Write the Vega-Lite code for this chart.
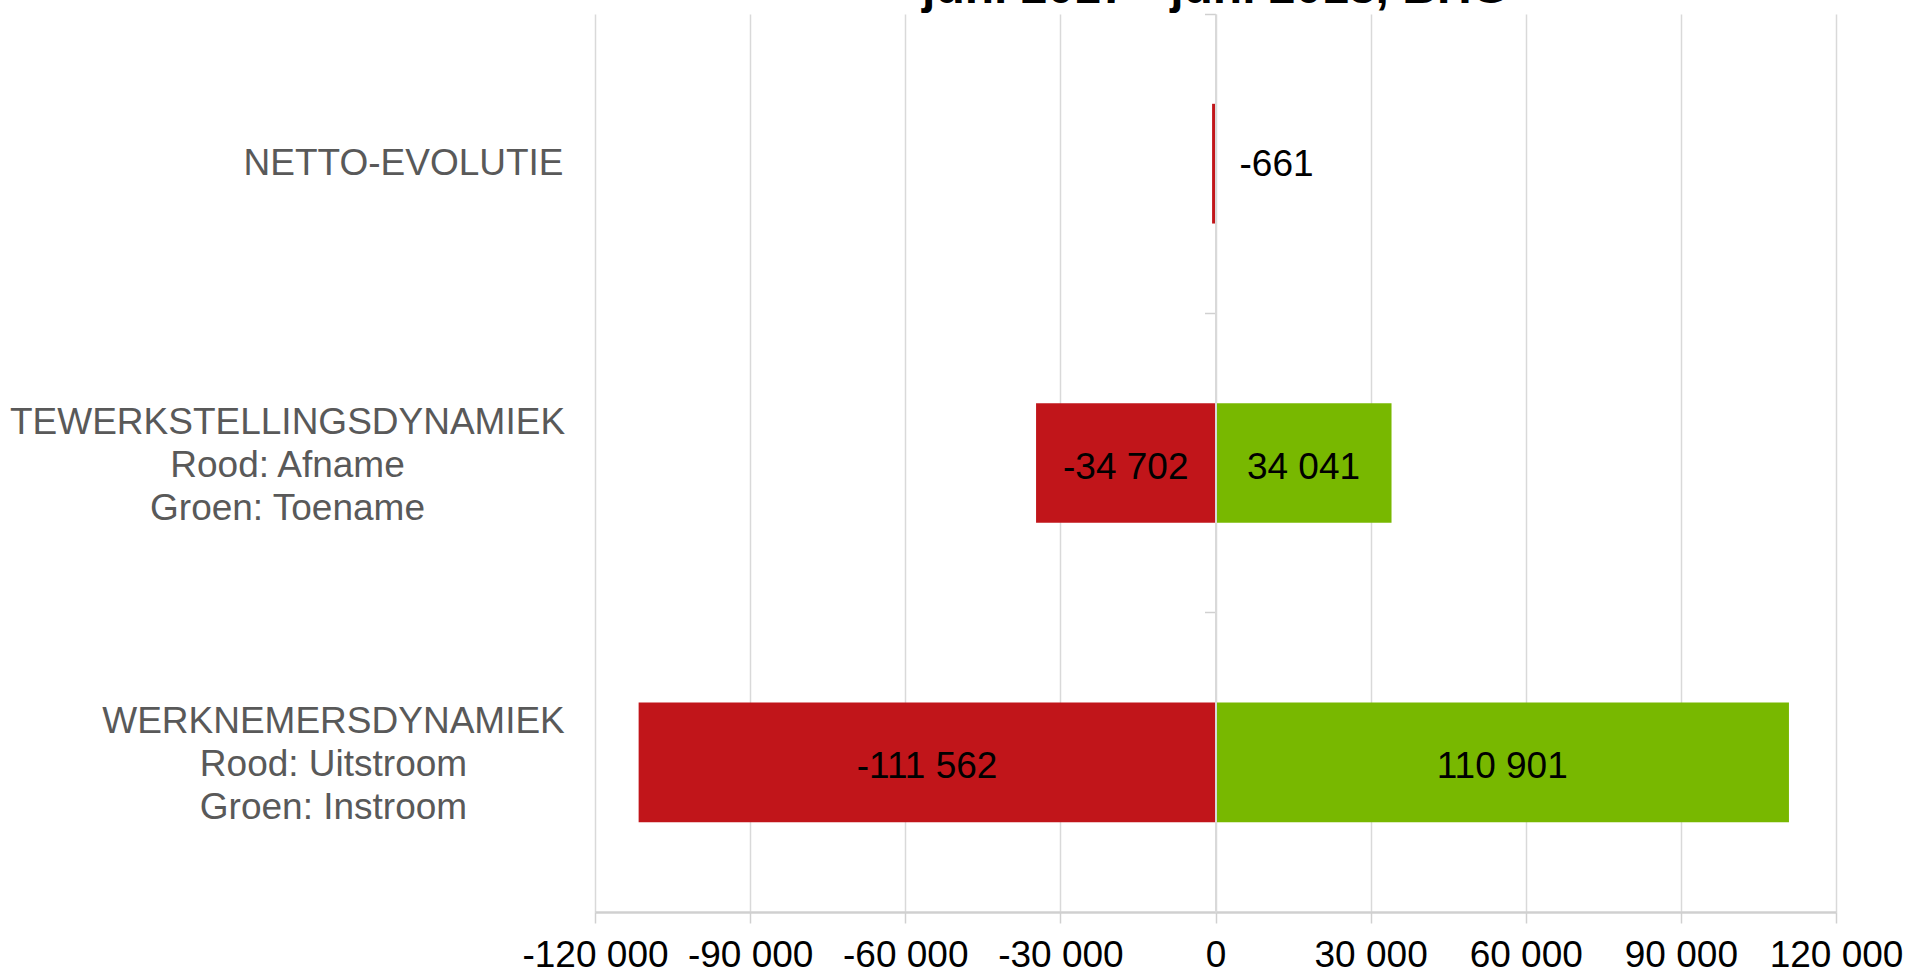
{
  "$schema": "https://vega.github.io/schema/vega-lite/v6.json",
  "width": 1241,
  "height": 898,
  "autosize": {"type": "none"},
  "padding": {"left": 595, "top": 14, "right": 73, "bottom": 62},
  "background": "white",
  "config": {"view": {"stroke": null}},
  "title": {"text": "juni 2017 - juni 2018, BHG", "font": "Liberation Sans", "fontSize": 48, "fontWeight": "bold", "color": "#000000", "anchor": "middle", "offset": 0},
  "data": {"values": [
    {"cat": "NETTO-EVOLUTIE", "kind": "neg", "value": -661},
    {"cat": "TEWERKSTELLINGSDYNAMIEK|Rood: Afname|Groen: Toename", "kind": "neg", "value": -34702},
    {"cat": "TEWERKSTELLINGSDYNAMIEK|Rood: Afname|Groen: Toename", "kind": "pos", "value": 34041},
    {"cat": "WERKNEMERSDYNAMIEK|Rood: Uitstroom|Groen: Instroom", "kind": "neg", "value": -111562},
    {"cat": "WERKNEMERSDYNAMIEK|Rood: Uitstroom|Groen: Instroom", "kind": "pos", "value": 110901}
  ]},
  "transform": [
    {"calculate": "replace(replace(format(datum.value, ','), ',', ' '), '\u2212', '-')", "as": "lbl"},
    {"calculate": "datum.value / 2", "as": "mid"}
  ],
  "layer": [
    {
      "mark": {"type": "bar"},
      "encoding": {
        "y": {
          "field": "cat", "type": "nominal",
          "sort": ["NETTO-EVOLUTIE", "TEWERKSTELLINGSDYNAMIEK|Rood: Afname|Groen: Toename", "WERKNEMERSDYNAMIEK|Rood: Uitstroom|Groen: Instroom"],
          "scale": {"paddingInner": 0.6, "paddingOuter": 0.3},
          "axis": {
            "orient": "left", "title": null, "domain": false, "ticks": false, "tickSize": 0, "grid": false,
            "labelExpr": "split(datum.label, '|')",
            "labelAlign": "center", "labelBaseline": "middle",
            "labelFont": "Liberation Sans", "labelFontSize": 37, "labelColor": "#595959",
            "labelLineHeight": 43, "labelLimit": 2000,
            "labelPadding": {"condition": [
              {"test": "datum.value === 'NETTO-EVOLUTIE'", "value": 192},
              {"test": "indexof(datum.value, 'TEWERK') === 0", "value": 308}
            ], "value": 262},
            "labelOffset": {"condition": {"test": "datum.value === 'NETTO-EVOLUTIE'", "value": 0}, "value": -40}
          }
        },
        "x": {
          "field": "value", "type": "quantitative",
          "scale": {"domain": [-120000, 120000], "nice": false, "zero": false},
          "axis": {
            "orient": "bottom", "title": null,
            "values": [-120000, -90000, -60000, -30000, 0, 30000, 60000, 90000, 120000],
            "labelExpr": "replace(replace(format(datum.value, ','), ',', ' '), '\u2212', '-')",
            "labelFont": "Liberation Sans", "labelFontSize": 37, "labelColor": "#000000",
            "labelPadding": 14, "labelFlush": false, "labelOverlap": false,
            "grid": true, "gridColor": "#D9D9D9", "gridWidth": 1.5,
            "domainColor": "#D0D0D0", "domainWidth": 2.5,
            "tickColor": "#D0D0D0", "tickSize": 11, "tickWidth": 1.5
          }
        },
        "color": {
          "field": "kind", "type": "nominal",
          "scale": {"domain": ["neg", "pos"], "range": ["#C1151A", "#78B800"]},
          "legend": null
        }
      }
    },
    {
      "transform": [{"filter": "datum.cat !== 'NETTO-EVOLUTIE'"}],
      "mark": {"type": "text", "font": "Liberation Sans", "fontSize": 37, "color": "#000000", "align": "center", "baseline": "middle", "dy": 5},
      "encoding": {
        "y": {
          "field": "cat", "type": "nominal",
          "sort": ["NETTO-EVOLUTIE", "TEWERKSTELLINGSDYNAMIEK|Rood: Afname|Groen: Toename", "WERKNEMERSDYNAMIEK|Rood: Uitstroom|Groen: Instroom"],
          "axis": {
            "orient": "left", "offset": -620.5, "title": null, "labels": false, "grid": false,
            "bandPosition": -0.75, "ticks": true, "tickSize": 11, "tickColor": "#D0D0D0", "tickWidth": 1.5,
            "domain": true, "domainColor": "#D9D9D9", "domainWidth": 2, "zindex": 1
          }
        },
        "x": {
          "field": "mid", "type": "quantitative",
          "axis": {
            "orient": "bottom", "title": null,
            "values": [-120000, -90000, -60000, -30000, 0, 30000, 60000, 90000, 120000],
            "labelExpr": "replace(replace(format(datum.value, ','), ',', ' '), '\u2212', '-')",
            "labelFont": "Liberation Sans", "labelFontSize": 37, "labelColor": "#000000",
            "labelPadding": 14, "labelFlush": false, "labelOverlap": false,
            "grid": true, "gridColor": "#D9D9D9", "gridWidth": 1.5,
            "domainColor": "#D0D0D0", "domainWidth": 2.5,
            "tickColor": "#D0D0D0", "tickSize": 11, "tickWidth": 1.5
          }
        },
        "text": {"field": "lbl"}
      }
    },
    {
      "transform": [{"filter": "datum.cat === 'NETTO-EVOLUTIE'"}],
      "mark": {"type": "text", "font": "Liberation Sans", "fontSize": 37, "color": "#000000", "align": "left", "baseline": "middle", "dx": 24, "dy": 1},
      "encoding": {
        "y": {
          "field": "cat", "type": "nominal",
          "sort": ["NETTO-EVOLUTIE", "TEWERKSTELLINGSDYNAMIEK|Rood: Afname|Groen: Toename", "WERKNEMERSDYNAMIEK|Rood: Uitstroom|Groen: Instroom"],
          "axis": null
        },
        "x": {
          "datum": 0, "type": "quantitative",
          "axis": {
            "orient": "bottom", "title": null,
            "values": [-120000, -90000, -60000, -30000, 0, 30000, 60000, 90000, 120000],
            "labelExpr": "replace(replace(format(datum.value, ','), ',', ' '), '\u2212', '-')",
            "labelFont": "Liberation Sans", "labelFontSize": 37, "labelColor": "#000000",
            "labelPadding": 14, "labelFlush": false, "labelOverlap": false,
            "grid": true, "gridColor": "#D9D9D9", "gridWidth": 1.5,
            "domainColor": "#D0D0D0", "domainWidth": 2.5,
            "tickColor": "#D0D0D0", "tickSize": 11, "tickWidth": 1.5
          }
        },
        "text": {"field": "lbl"}
      }
    }
  ],
  "resolve": {"axis": {"y": "independent"}}
}
